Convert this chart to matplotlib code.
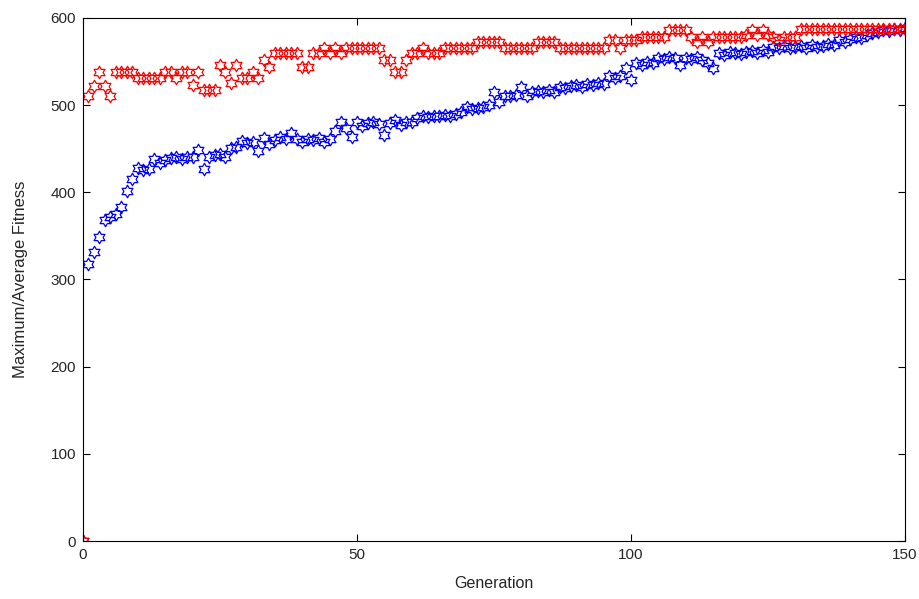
import numpy as np
import matplotlib
matplotlib.use('Agg')
import matplotlib.pyplot as plt
from matplotlib.path import Path

# maximum fitness per generation (red)
max_fit = [0,
           510, 522, 538, 522, 510,
           538, 538, 538, 538,
           531, 531, 531, 531, 531,
           538, 538, 531, 538, 538, 523, 538,
           517, 517, 517,
           546, 538, 525, 546, 531, 531, 538, 531,
           552, 544,
           560, 560, 560, 560, 560,
           544, 544,
           560, 560, 566, 560, 566, 560,
           566, 566, 566, 566, 566, 566, 566,
           552, 552, 538, 538, 552,
           560, 560, 566, 560, 560, 560,
           566, 566, 566, 566, 566, 566,
           572, 572, 572, 572, 572,
           566, 566, 566, 566, 566, 566,
           572, 572, 572, 572,
           566, 566, 566, 566, 566, 566, 566, 566, 566,
           575, 575, 566, 575, 575, 575,
           578, 578, 578, 578, 578,
           586, 586, 586, 586,
           578, 572, 578, 572,
           578, 578, 578, 578, 578, 578,
           580, 586, 580, 586, 580,
           578, 575, 578, 578, 578,
           587, 587, 587, 587, 587, 587, 587, 587, 587, 587,
           587, 587, 587, 587, 587, 587, 587, 587, 587, 587]

# average fitness per generation (blue)
avg_fit = [0,
           318, 331, 349, 368, 372, 375, 383, 402, 415, 428,
           426, 427, 438, 434, 437, 439, 441, 438, 441, 441,
           448, 427, 441, 443, 444, 440, 451, 452, 459, 457,
           458, 447, 462, 456, 460, 463, 461, 468, 461, 458,
           461, 460, 462, 458, 461, 470, 481, 474, 464, 481,
           476, 479, 481, 478, 466, 479, 483, 477, 481,
           481, 485,
           487, 486, 488, 487, 489, 487, 490,
           492, 498, 496, 497, 498, 500, 515, 504, 510, 511,
           512, 521, 511, 515, 516, 515, 517, 515,
           521, 520, 522, 523, 521, 524, 523, 525, 524,
           533, 531, 533, 543, 529,
           548, 546, 549, 548,
           554, 553, 555, 554, 546,
           554, 553, 555, 552, 548, 543,
           560, 558, 561, 560, 559,
           561, 562, 560, 563, 561,
           567, 565, 568, 566, 567, 568, 566, 569, 567, 568, 570, 569,
           575, 573, 576, 578, 577,
           580, 583, 584, 586, 585, 587, 586, 588]

gen = np.arange(len(max_fit))

plt.rcParams['font.family'] = ['Liberation Sans', 'DejaVu Sans']
txt = '#262626'

hexagram = Path.unit_regular_star(6, 0.577)

fig = plt.figure(figsize=(9.2, 5.99), dpi=100)
ax = fig.add_axes([0.0902, 0.0968, 0.8935, 0.8732])

ax.plot(gen, avg_fit, linestyle='none', marker=hexagram, markersize=9,
        markerfacecolor='none', markeredgecolor='#0000ff', markeredgewidth=0.9)
ax.plot(gen, max_fit, linestyle='none', marker=hexagram, markersize=9,
        markerfacecolor='none', markeredgecolor='#ff0000', markeredgewidth=0.9)

ax.set_xlim(0, 150)
ax.set_ylim(0, 600)
ax.set_xticks([0, 50, 100, 150])
ax.set_yticks(np.arange(0, 601, 100))
ax.tick_params(direction='in', top=True, right=True, labelsize=11,
               length=5, pad=5, labelcolor=txt)
ax.set_xlabel('Generation', fontsize=11.5, color=txt, labelpad=10)
ax.set_ylabel('Maximum/Average Fitness', fontsize=12, color=txt, labelpad=16)

fig.savefig('out.png', dpi=100)
plt.close()
